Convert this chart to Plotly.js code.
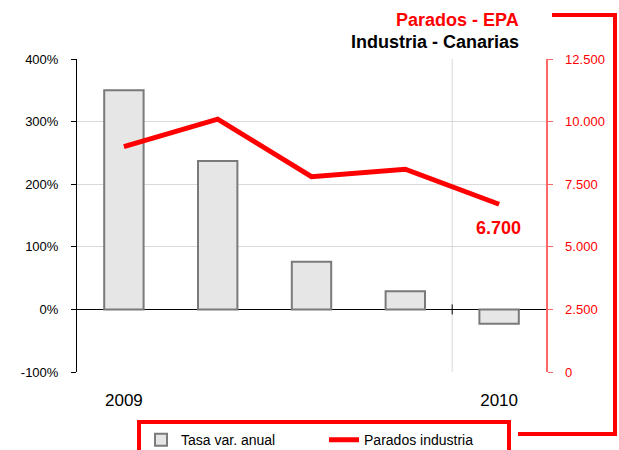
<!DOCTYPE html>
<html>
<head>
<meta charset="utf-8">
<script src="https://cdn.plot.ly/plotly-3.0.1.min.js"></script>
<style>html,body{margin:0;padding:0;background:#fff;}#chart{width:619px;height:450px;}</style>
</head>
<body>
<div id="chart"></div>
<script>
// Data
var categories = ["2009-T1", "2009-T2", "2009-T3", "2009-T4", "2010-T1"];
var tickLabels = ["2009", "", "", "", "2010"];
var tasaVarAnual = [350, 237, 76, 29, -23];          // % annual change
var paradosIndustria = [9000, 10100, 7800, 8100, 6700]; // unemployed, industry
var leftTicks = [-100, 0, 100, 200, 300, 400];
var leftTickLabels = ["-100%", "0%", "100%", "200%", "300%", "400%"];
var seriesNames = ["Tasa var. anual", "Parados industria"];
var titleLine1 = "Parados - EPA";
var titleLine2 = "Industria - Canarias";

var FONT = "Liberation Sans, Arial, sans-serif";
var RED = "#ff0000";

var lastIdx = paradosIndustria.length - 1;
var lastLabel = paradosIndustria[lastIdx].toLocaleString("de-DE");

var traces = [
  {
    type: "bar",
    name: seriesNames[0],
    x: categories,
    y: tasaVarAnual,
    width: 0.42,
    marker: { color: "#e6e6e6", line: { color: "#7a7a7a", width: 2 } },
    yaxis: "y",
    hoverinfo: "skip"
  },
  {
    type: "scatter",
    mode: "lines",
    name: seriesNames[1],
    x: categories,
    y: paradosIndustria,
    line: { color: RED, width: 5 },
    yaxis: "y2",
    hoverinfo: "skip"
  }
];

var layout = {
  width: 619,
  height: 450,
  paper_bgcolor: "#fff",
  plot_bgcolor: "#fff",
  separators: ",.",
  showlegend: true,
  margin: { l: 77, r: 73, t: 59, b: 78, autoexpand: false },
  font: { family: FONT, size: 12, color: "#000" },
  xaxis: {
    type: "category",
    tickvals: categories,
    ticktext: tickLabels,
    ticks: "",
    showgrid: false,
    showline: false,
    zeroline: false,
    tickfont: { size: 17, color: "#000" },
    ticklabelstandoff: 16,
    fixedrange: true
  },
  yaxis: {
    range: [-100, 400],
    tickmode: "array",
    tickvals: leftTicks,
    ticktext: leftTickLabels,
    showline: true,
    linecolor: "#000",
    linewidth: 1,
    ticks: "outside",
    ticklen: 5,
    tickcolor: "#000",
    showgrid: true,
    gridcolor: "#d9d9d9",
    zeroline: true,
    zerolinecolor: "#000",
    zerolinewidth: 1,
    tickfont: { size: 13, color: "#000" },
    ticklabelstandoff: 10,
    fixedrange: true
  },
  yaxis2: {
    overlaying: "y",
    side: "right",
    range: [0, 12500],
    dtick: 2500,
    tickformat: ",d",
    showline: true,
    linecolor: "rgba(255,0,0,0.6)",
    linewidth: 1.5,
    ticks: "outside",
    ticklen: 5,
    tickcolor: "rgba(255,0,0,0.6)",
    showgrid: false,
    zeroline: false,
    tickfont: { size: 13, color: RED },
    ticklabelstandoff: 10,
    fixedrange: true
  },
  legend: {
    orientation: "h",
    x: 0.128,
    xanchor: "left",
    y: -0.154,
    yanchor: "top",
    bordercolor: RED,
    borderwidth: 4,
    bgcolor: "#fff",
    font: { size: 14, color: "#000", family: FONT },
    entrywidth: 138,
    traceorder: "normal"
  },
  annotations: [
    {
      xref: "paper", yref: "paper",
      x: 0.9467, y: 1.1246,
      xanchor: "right", yanchor: "middle",
      text: "<b>" + titleLine1 + "</b>",
      showarrow: false,
      font: { family: FONT, size: 18, color: RED }
    },
    {
      xref: "paper", yref: "paper",
      x: 0.9467, y: 1.0543,
      xanchor: "right", yanchor: "middle",
      text: "<b>" + titleLine2 + "</b>",
      showarrow: false,
      font: { family: FONT, size: 18, color: "#000" }
    },
    {
      xref: "x", yref: "y2",
      x: categories[lastIdx], y: paradosIndustria[lastIdx],
      text: "<b>" + lastLabel + "</b>",
      showarrow: false,
      yshift: -24,
      xshift: -1,
      font: { family: FONT, size: 18, color: RED }
    }
  ],
  shapes: [
    {
      type: "line",
      xref: "x", yref: "paper",
      x0: 3.5, x1: 3.5, y0: 0, y1: 1,
      line: { color: "#d9d9d9", width: 1 },
      layer: "below"
    },
    {
      type: "line",
      xref: "x", yref: "y",
      x0: 3.5, x1: 3.5, y0: -8, y1: 8,
      line: { color: "#000", width: 1 }
    },
    {
      type: "path",
      xref: "paper", yref: "paper",
      path: "M 1.0128 1.1406 L 1.1471 1.1406 L 1.1471 -0.198 L 0.9403 -0.198",
      line: { color: RED, width: 4 },
      fillcolor: "rgba(0,0,0,0)"
    }
  ]
};

Plotly.newPlot("chart", traces, layout, { displayModeBar: false, staticPlot: true });
</script>
</body>
</html>
